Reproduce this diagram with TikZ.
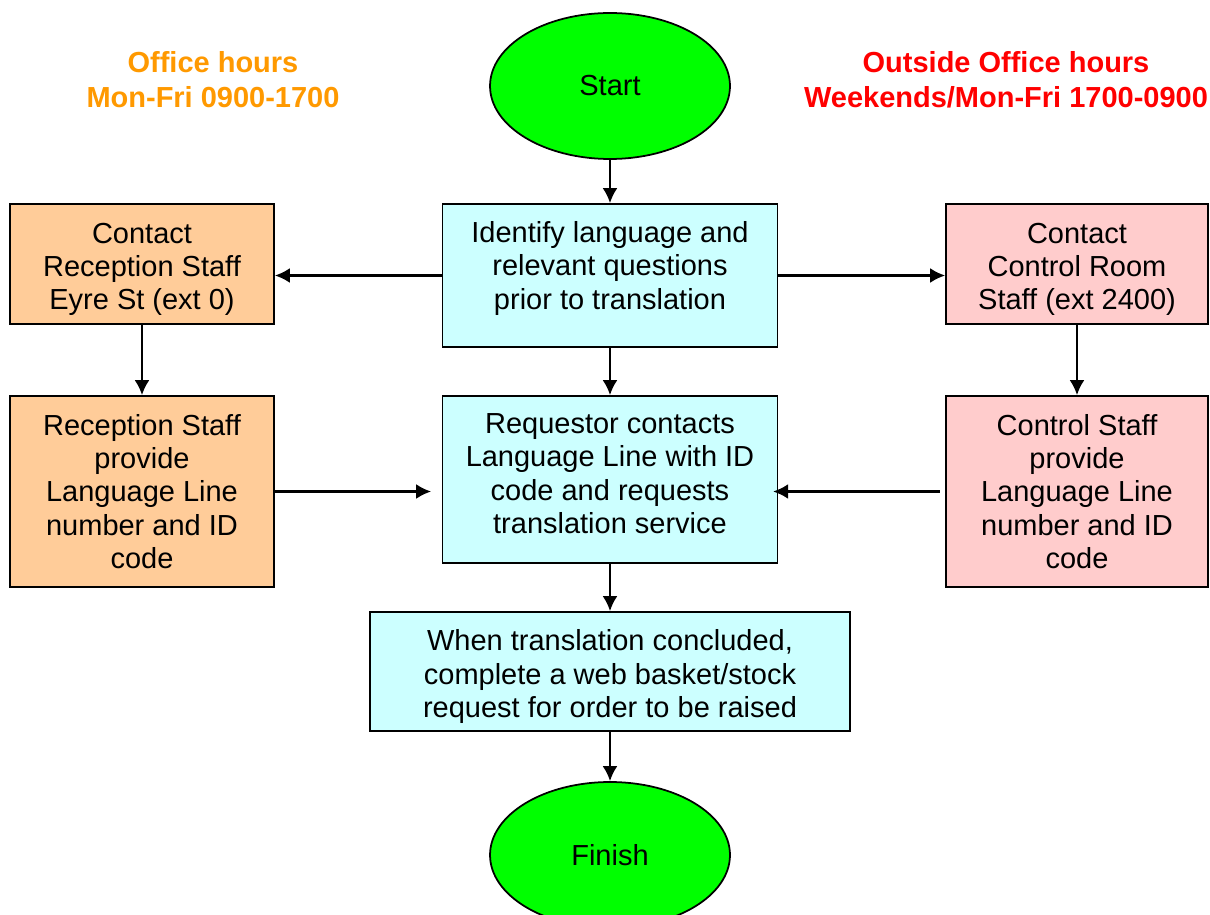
\documentclass[tikz,border=0pt]{standalone}
\usepackage{fontspec}
\setmainfont{Liberation Sans}
\usetikzlibrary{arrows.meta,shapes.geometric}
\definecolor{hoursorange}{HTML}{FF9900}
\definecolor{hoursred}{HTML}{FF0000}
\definecolor{officefill}{HTML}{FFCC99}
\definecolor{mainfill}{HTML}{CCFFFF}
\definecolor{outsidefill}{HTML}{FFCCCC}
\definecolor{endfill}{HTML}{00FF00}
\begin{document}
\begin{tikzpicture}[x=0.02cm,y=-0.02cm,
  font=\fontsize{16.5}{19}\selectfont,
  box/.style={draw=black,line width=1pt,align=center,inner sep=0pt},
  terminal/.style={ellipse,draw=black,line width=1pt,fill=endfill,inner sep=0pt,minimum width=4.8cm,minimum height=2.92cm},
  heading/.style={align=center,font=\fontsize{16.5}{19}\selectfont\bfseries},
  arr/.style={-{Latex[length=3mm,width=3mm]},line width=1.4pt}]
\useasboundingbox (0,0) rectangle (1210,915);

\node (office) at (213,80) [heading,text=hoursorange]{Office hours\\[1pt]Mon-Fri 0900-1700};
\node (outside) at (1006,80) [heading,text=hoursred]{Outside Office hours\\[1pt]Weekends/Mon-Fri 1700-0900};

\node (start) at (610,86) [terminal]{Start};
\node (finish) at (610,855) [terminal]{Finish};

\node (identify) at (610,275.5) [box,fill=mainfill,minimum width=6.7cm,minimum height=2.86cm]{Identify language and\\relevant questions\\prior to translation\\[-7.5pt]\mbox{}};
\node (requestor) at (610,479.5) [box,fill=mainfill,minimum width=6.7cm,minimum height=3.34cm]{Requestor contacts\\Language Line with ID\\code and requests\\translation service\\[-12pt]\mbox{}};
\node (concluded) at (610,671.5) [box,fill=mainfill,minimum width=9.6cm,minimum height=2.38cm]{\mbox{}\\[-1.3pt]When translation concluded,\\complete a web basket/stock\\request for order to be raised};

\node (reception) at (142,264) [box,fill=officefill,minimum width=5.28cm,minimum height=2.4cm]{\mbox{}\\[-1.3pt]Contact\\Reception Staff\\Eyre St (ext 0)};
\node (recprovide) at (142,491.5) [box,fill=officefill,minimum width=5.28cm,minimum height=3.82cm]{Reception Staff\\provide\\Language Line\\number and ID\\code};

\node (control) at (1077,264) [box,fill=outsidefill,minimum width=5.24cm,minimum height=2.4cm]{\mbox{}\\[-1.3pt]Contact\\Control Room\\Staff (ext 2400)};
\node (conprovide) at (1077,491.5) [box,fill=outsidefill,minimum width=5.24cm,minimum height=3.82cm]{Control Staff\\provide\\Language Line\\number and ID\\code};

\draw[arr] (start) -- (identify);
\draw[arr] (identify.west) -- (identify.west -| reception.east);
\draw[arr] (identify.east) -- (identify.east -| control.west);
\draw[arr] (reception) -- (recprovide);
\draw[arr] (control) -- (conprovide);
\draw[arr] (identify) -- (requestor);
\draw[arr,shorten >=6pt] (recprovide.east) -- (recprovide.east -| requestor.west);
\draw[arr] ([xshift=-3pt]conprovide.west) -- ([xshift=-3pt]conprovide.west -| requestor.east);
\draw[arr] (requestor) -- (concluded);
\draw[arr] (concluded) -- (finish);

\end{tikzpicture}
\end{document}
